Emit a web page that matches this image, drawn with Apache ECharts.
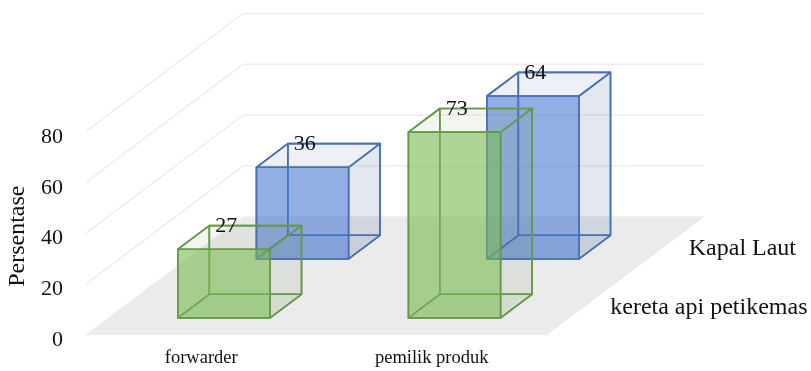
<!DOCTYPE html>
<html>
<head>
<meta charset="utf-8">
<style>
  html, body { margin: 0; padding: 0; background: #fff; }
  #chart { width: 811px; height: 371px; }
</style>
<script src="https://cdn.jsdelivr.net/npm/echarts@6/dist/echarts.min.js"></script>
</head>
<body>
<div id="chart"></div>
<script>
const categories = ['forwarder', 'pemilik produk'];
const depthNames = ['kereta api petikemas', 'Kapal Laut'];
const keretaValues = [27, 73];
const kapalValues = [36, 64];
const gridTicks = [0, 20, 40, 60, 80];

const FONT = '"Liberation Serif", "Times New Roman", serif';
// oblique projection: one depth category moves a point by this many px
const DEPTH_DX = 78.5;
const DEPTH_DY = -59;
const BAR_WIDTH = 0.4; // share of a category band
const BAR_DEPTH = 0.4; // share of a depth band
const BAR_CENTER = 0.49; // bars sit a little to the front of their depth band

const chart = echarts.init(document.getElementById('chart'), null, { renderer: 'canvas' });

// cat is a category position (0 = left edge of first band), depth in depth bands
function project(api, cat, value, depth) {
  const origin = api.coord([0, value]);
  const band = api.size([1, 0])[0];
  return [
    origin[0] + (cat - 0.5) * band + depth * DEPTH_DX,
    origin[1] + depth * DEPTH_DY,
  ];
}

function renderFloor(params, api) {
  return {
    type: 'polygon',
    shape: {
      points: [
        project(api, 0, 0, 0),
        project(api, categories.length, 0, 0),
        project(api, categories.length, 0, depthNames.length),
        project(api, 0, 0, depthNames.length),
      ],
    },
    style: { fill: '#ebebeb' },
  };
}

function renderGridLine(params, api) {
  const v = api.value(0);
  return {
    type: 'polyline',
    shape: {
      points: [
        project(api, 0, v, 0),
        project(api, 0, v, depthNames.length),
        project(api, categories.length, v, depthNames.length),
      ],
    },
    style: { fill: null, stroke: '#eeeeee', lineWidth: 1.5 },
  };
}

function makeBarRenderer(depthIndex, stroke, front, side, top, under) {
  return function (params, api) {
    const cat = api.value(0);
    const v = api.value(1);
    const x0 = cat + 0.5 - BAR_WIDTH / 2;
    const x1 = cat + 0.5 + BAR_WIDTH / 2;
    const d0 = depthIndex + BAR_CENTER - BAR_DEPTH / 2;
    const d1 = depthIndex + BAR_CENTER + BAR_DEPTH / 2;
    const p = (x, val, d) => project(api, x, val, d);
    const face = (pts, fill) => ({
      type: 'polygon',
      shape: { points: pts },
      style: { fill: fill, stroke: stroke, lineWidth: 1.6, lineJoin: 'round' },
    });
    const topLeftBack = p(x0, v, d1);
    return {
      type: 'group',
      children: [
        face([p(x0, 0, d1), p(x1, 0, d1), p(x1, v, d1), p(x0, v, d1)], 'rgba(0,0,0,0)'),
        face([p(x0, 0, d0), p(x0, 0, d1), p(x0, v, d1), p(x0, v, d0)], 'rgba(0,0,0,0)'),
        face([p(x0, 0, d0), p(x1, 0, d0), p(x1, 0, d1), p(x0, 0, d1)], under),
        face([p(x1, 0, d0), p(x1, 0, d1), p(x1, v, d1), p(x1, v, d0)], side),
        face([p(x0, v, d0), p(x1, v, d0), p(x1, v, d1), p(x0, v, d1)], top),
        face([p(x0, 0, d0), p(x1, 0, d0), p(x1, v, d0), p(x0, v, d0)], front),
        {
          type: 'text',
          style: {
            text: String(v),
            x: topLeftBack[0] + 17,
            y: topLeftBack[1] + 1,
            align: 'center',
            verticalAlign: 'middle',
            fill: '#111',
            font: '22px ' + FONT,
          },
          z2: 10,
        },
      ],
    };
  };
}

function renderDepthLabel(params, api) {
  const i = api.value(0);
  const edge = project(api, categories.length, 0, i + 0.5);
  return {
    type: 'text',
    style: {
      text: depthNames[i],
      x: edge[0] + 24,
      y: edge[1] + 2,
      align: 'left',
      verticalAlign: 'middle',
      fill: '#111',
      font: '24px ' + FONT,
    },
  };
}

const option = {
  animation: false,
  backgroundColor: '#fff',
  grid: { left: 86, right: 264, top: 131.4, bottom: 36, outerBoundsMode: 'none' },
  xAxis: {
    type: 'category',
    data: categories,
    axisLine: { show: false },
    axisTick: { show: false },
    axisLabel: { color: '#111', fontFamily: FONT, fontSize: 18.5, margin: 14 },
  },
  yAxis: {
    type: 'value',
    min: 0,
    max: 80,
    interval: 20,
    name: 'Persentase',
    nameLocation: 'middle',
    nameGap: 50,
    nameTextStyle: { color: '#111', fontFamily: FONT, fontSize: 24, padding: [0, 6, 0, 0] },
    axisLine: { show: false },
    axisTick: { show: false },
    splitLine: { show: false },
    axisLabel: {
      margin: 23,
      formatter: '{tick|{value}}',
      rich: { tick: { color: '#111', fontFamily: FONT, fontSize: 22, padding: [11, 0, 0, 0] } },
    },
  },
  series: [
    { type: 'custom', name: 'floor', renderItem: renderFloor, data: [[0]], silent: true, z: 1 },
    { type: 'custom', name: 'grid', renderItem: renderGridLine, data: gridTicks.map((t) => [t]), silent: true, z: 2 },
    {
      type: 'custom',
      name: depthNames[1],
      renderItem: makeBarRenderer(1, '#4a70b6', 'rgba(68,116,205,0.58)', 'rgba(60,90,150,0.14)', 'rgba(60,90,150,0.09)', 'rgba(60,90,150,0.06)'),
      data: kapalValues.map((v, i) => [i, v]),
      z: 3,
    },
    {
      type: 'custom',
      name: depthNames[0],
      renderItem: makeBarRenderer(0, '#659a49', 'rgba(120,185,80,0.6)', 'rgba(100,130,70,0.1)', 'rgba(100,130,70,0.08)', 'rgba(100,130,70,0.05)'),
      data: keretaValues.map((v, i) => [i, v]),
      z: 4,
    },
    { type: 'custom', name: 'depth labels', renderItem: renderDepthLabel, data: depthNames.map((n, i) => [i]), silent: true, z: 5 },
  ],
};

chart.setOption(option);
window.addEventListener('resize', () => chart.resize());
</script>
</body>
</html>
